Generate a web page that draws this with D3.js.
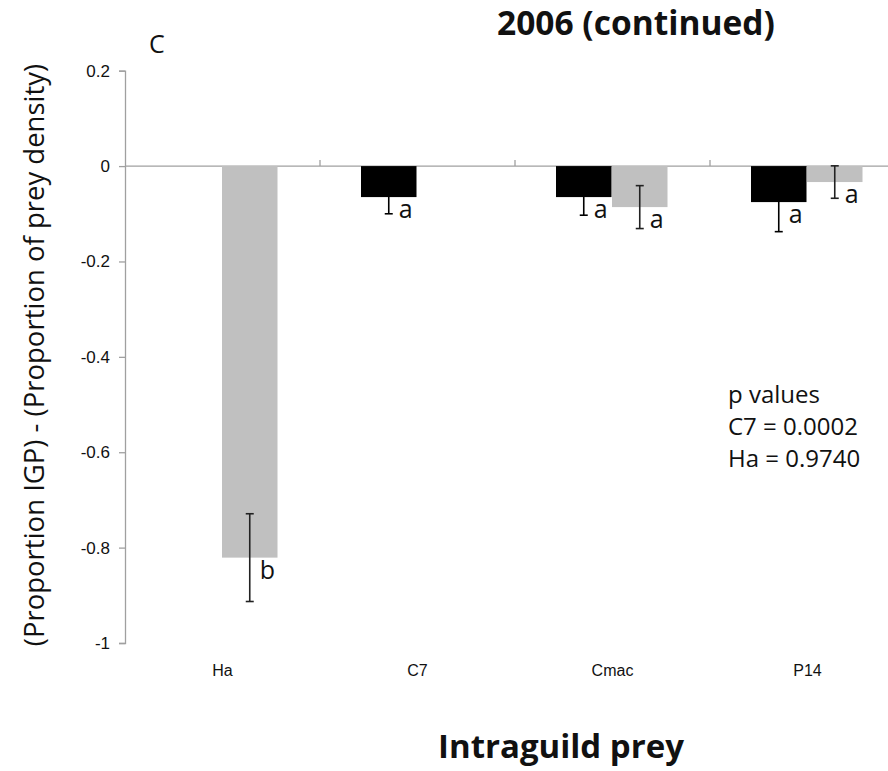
<!DOCTYPE html>
<html>
<head>
<meta charset="utf-8">
<script src="https://cdn.jsdelivr.net/npm/d3@7"></script>
<style>
  html, body { margin: 0; padding: 0; background: #fff; }
  svg { display: block; }
</style>
</head>
<body>
<svg id="chart" width="888" height="771"></svg>
<script>
// Intraguild prey categories and the two predator series
const categories = ["Ha", "C7", "Cmac", "P14"];
const blackValues = [null, -0.065, -0.065, -0.0755];
const blackErrors = [null, 0.035, 0.038, 0.062];
const grayValues  = [-0.821, null, -0.086, -0.0335];
const grayErrors  = [0.092, null, 0.045, 0.034];
const blackLetters = [null, "a", "a", "a"];
const grayLetters  = ["b", null, "a", "a"];
const yTicks = [0.2, 0, -0.2, -0.4, -0.6, -0.8, -1];
const yTickLabels = ["0.2", "0", "-0.2", "-0.4", "-0.6", "-0.8", "-1"];
const pValueLines = ["p values", "C7 = 0.0002", "Ha = 0.9740"];

const svg = d3.select("#chart");
const axisColor = "#a0a0a0";
const grayFill = "#c0c0c0";
const textFont = "'Open Sans', 'Noto Sans', sans-serif";
const tickFont = "'Liberation Sans', Arial, sans-serif";

const x = d3.scaleBand().domain(categories).range([125, 905]).paddingInner(0).paddingOuter(0);
const y = d3.scaleLinear().domain([-1, 0.2]).range([643, 70.7]);
const barW = 55.5;

// Y axis
const yAxis = d3.axisLeft(y).tickValues(yTicks).tickSize(6).tickPadding(9)
  .tickFormat((d, i) => yTickLabels[i]);
const gy = svg.append("g").attr("transform", "translate(125,0)").call(yAxis);
gy.attr("font-size", 17).attr("font-family", tickFont);
gy.select(".domain").attr("stroke", axisColor).attr("stroke-width", 1.3);
gy.selectAll(".tick line").attr("stroke", axisColor).attr("stroke-width", 1.3);
gy.selectAll(".tick text").attr("fill", "#111");

// Zero line with category separators
const gx = svg.append("g").attr("transform", `translate(0,${y(0)})`);
gx.append("line").attr("x1", 125).attr("x2", 888).attr("y1", 0).attr("y2", 0)
  .attr("stroke", axisColor).attr("stroke-width", 1.3);
gx.selectAll("line.sep").data(categories.slice(1)).join("line").attr("class", "sep")
  .attr("x1", d => x(d)).attr("x2", d => x(d)).attr("y1", 0).attr("y2", -6)
  .attr("stroke", axisColor).attr("stroke-width", 1.3);

// Category labels
svg.selectAll("text.cat").data(categories).join("text").attr("class", "cat")
  .attr("x", d => x(d) + x.bandwidth() / 2).attr("y", 676)
  .attr("text-anchor", "middle").attr("font-family", tickFont).attr("font-size", 16)
  .attr("fill", "#111").text(d => d);

const center = d => x(d) + x.bandwidth() / 2;

function drawSeries(values, errors, letters, offset, fill, errColor) {
  const data = categories.map((c, i) => ({ c, v: values[i], e: errors[i], l: letters[i] }))
    .filter(d => d.v !== null);
  const g = svg.append("g");
  g.selectAll("rect").data(data).join("rect")
    .attr("x", d => center(d.c) + offset)
    .attr("y", y(0))
    .attr("width", barW)
    .attr("height", d => y(d.v) - y(0))
    .attr("fill", fill);
  const ex = d => center(d.c) + offset + barW / 2;
  g.selectAll("line.err").data(data).join("line").attr("class", "err")
    .attr("x1", ex).attr("x2", ex)
    .attr("y1", d => y(d.v + d.e)).attr("y2", d => y(d.v - d.e))
    .attr("stroke", errColor).attr("stroke-width", 1.6);
  g.selectAll("line.capLo").data(data).join("line").attr("class", "capLo")
    .attr("x1", d => ex(d) - 4).attr("x2", d => ex(d) + 4)
    .attr("y1", d => y(d.v - d.e)).attr("y2", d => y(d.v - d.e))
    .attr("stroke", errColor).attr("stroke-width", 1.6);
  g.selectAll("line.capHi").data(data).join("line").attr("class", "capHi")
    .attr("x1", d => ex(d) - 4).attr("x2", d => ex(d) + 4)
    .attr("y1", d => y(d.v + d.e)).attr("y2", d => y(d.v + d.e))
    .attr("stroke", errColor).attr("stroke-width", 1.6);
  g.selectAll("text.sig").data(data).join("text").attr("class", "sig")
    .attr("x", d => ex(d) + 10)
    .attr("y", d => y(d.v) + 21)
    .attr("font-family", textFont).attr("font-size", 25).attr("fill", "#111")
    .text(d => d.l);
}

drawSeries(blackValues, blackErrors, blackLetters, -barW - 1, "#000", "#000");
drawSeries(grayValues, grayErrors, grayLetters, -0.5, grayFill, "#222");

// Panel letter and title
svg.append("text").attr("x", 149).attr("y", 53).attr("font-family", textFont)
  .attr("font-size", 25).attr("fill", "#111").text("C");
svg.append("text").attr("x", 497).attr("y", 35).attr("font-family", textFont)
  .attr("font-size", 33.5).attr("font-weight", "bold").attr("fill", "#111").text("2006 (continued)");

// p-value note
svg.append("g").selectAll("text").data(pValueLines).join("text")
  .attr("x", 728).attr("y", (d, i) => 403 + i * 32)
  .attr("font-family", textFont).attr("font-size", 24).attr("fill", "#111").text(d => d);

// Axis titles
svg.append("text").attr("transform", "translate(44,355) rotate(-90)")
  .attr("text-anchor", "middle").attr("font-family", textFont).attr("font-size", 27.5)
  .attr("fill", "#111").text("(Proportion IGP) - (Proportion of prey density)");
svg.append("text").attr("x", 561).attr("y", 758).attr("text-anchor", "middle")
  .attr("font-family", textFont).attr("font-size", 33).attr("font-weight", "bold")
  .attr("fill", "#111").text("Intraguild prey");
</script>
</body>
</html>
